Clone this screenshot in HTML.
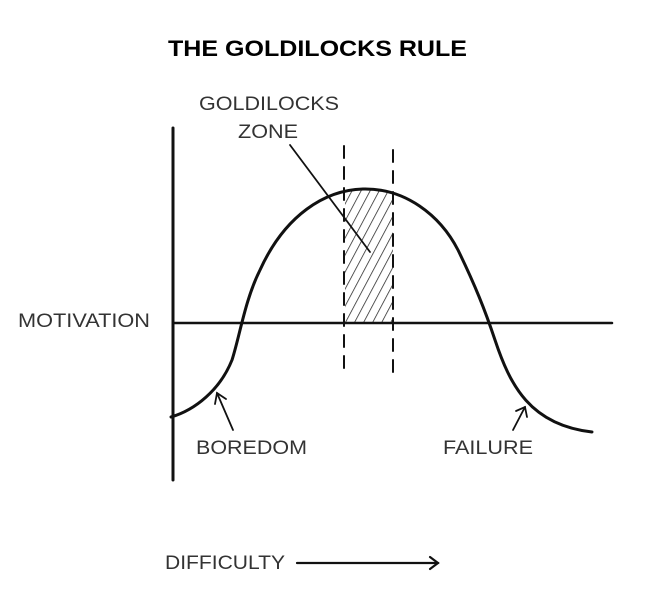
<!DOCTYPE html>
<html><head><style>
html,body{margin:0;padding:0;background:#fff;}
svg{display:block}
text{font-family:"Liberation Sans",sans-serif;fill:#333;}
</style></head><body>
<svg width="656" height="594" viewBox="0 0 656 594" xmlns="http://www.w3.org/2000/svg">
<defs>
<pattern id="h" patternUnits="userSpaceOnUse" width="8" height="8" patternTransform="rotate(28)">
<line x1="0" y1="0" x2="0" y2="8" stroke="#222" stroke-width="1.5"/>
</pattern>
<clipPath id="c"><rect x="345" y="150" width="48" height="173"/></clipPath>
</defs>
<text x="168" y="56" font-size="22" font-weight="bold" textLength="299" lengthAdjust="spacingAndGlyphs" style="fill:#000">THE GOLDILOCKS RULE</text>
<text x="199" y="110" font-size="19" textLength="140" lengthAdjust="spacingAndGlyphs">GOLDILOCKS</text>
<text x="238" y="138" font-size="19" textLength="60" lengthAdjust="spacingAndGlyphs">ZONE</text>
<text x="18" y="327" font-size="19" textLength="132" lengthAdjust="spacingAndGlyphs">MOTIVATION</text>
<text x="196" y="454" font-size="19" textLength="111" lengthAdjust="spacingAndGlyphs">BOREDOM</text>
<text x="443" y="454" font-size="19" textLength="90" lengthAdjust="spacingAndGlyphs">FAILURE</text>
<text x="165" y="569" font-size="19" textLength="120" lengthAdjust="spacingAndGlyphs">DIFFICULTY</text>
<g clip-path="url(#c)">
<path d="M232,360 C240,335 245,300 260,270 C285,215 325,190 363,189 C405,188 440,215 458,250 C475,285 485,310 495,340 L495,323 L232,323 Z" fill="url(#h)"/>
</g>
<g stroke="#111" fill="none" stroke-linecap="round">
<line x1="173" y1="128" x2="173" y2="480" stroke-width="3"/>
<line x1="173" y1="323" x2="612" y2="323" stroke-width="2.5"/>
<path d="M171,417 C195,410 220,390 232,360 C240,335 245,300 260,270 C285,215 325,190 363,189 C405,188 440,215 458,250 C475,285 485,310 495,340 C510,385 530,425 592,432" stroke-width="3"/>
<line x1="344" y1="146" x2="344" y2="376" stroke-width="2" stroke-dasharray="12,9"/>
<line x1="393" y1="150" x2="393" y2="376" stroke-width="2" stroke-dasharray="12,9"/>
<line x1="290" y1="145" x2="370" y2="252" stroke-width="1.8"/>
<line x1="233" y1="430" x2="217" y2="393" stroke-width="1.8"/>
<polyline points="215,404 217,393 226,399" stroke-width="1.8"/>
<line x1="513" y1="430" x2="525" y2="407" stroke-width="1.8"/>
<polyline points="516,411 525,407 527,417" stroke-width="1.8"/>
<line x1="297" y1="563" x2="438" y2="563" stroke-width="2.2"/>
<polyline points="430,557 438,563 430,569" stroke-width="2.2"/>
</g>
</svg>
</body></html>
